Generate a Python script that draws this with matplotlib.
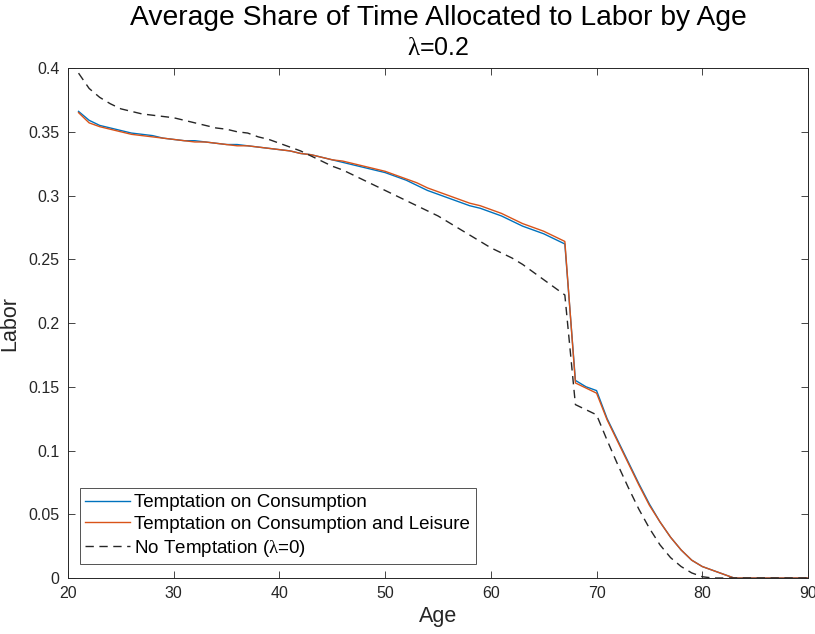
import matplotlib
matplotlib.use('Agg')
import matplotlib.pyplot as plt
import numpy as np

ages = list(range(21, 91))

# Temptation on Consumption
labor_cons = [0.366, 0.359, 0.355, 0.353, 0.351, 0.349, 0.348, 0.347, 0.345, 0.344,
              0.343, 0.343, 0.342, 0.341, 0.340, 0.340, 0.339, 0.338, 0.337, 0.336,
              0.335, 0.333, 0.332, 0.330, 0.328, 0.326, 0.324, 0.322, 0.320, 0.318,
              0.315, 0.312, 0.308, 0.304, 0.301, 0.298, 0.295, 0.292, 0.290, 0.287,
              0.284, 0.280, 0.276, 0.273, 0.270, 0.266, 0.262, 0.155, 0.150, 0.147,
              0.125, 0.108, 0.091, 0.074, 0.058, 0.044, 0.032, 0.022, 0.014, 0.009,
              0.006, 0.003, 0.0, 0.0, 0.0, 0.0, 0.0, 0.0, 0.0, 0.0]

# Temptation on Consumption and Leisure
labor_cons_leis = [0.365, 0.357, 0.354, 0.352, 0.350, 0.348, 0.347, 0.346, 0.345, 0.344,
                   0.343, 0.342, 0.342, 0.341, 0.340, 0.339, 0.339, 0.338, 0.337, 0.336,
                   0.335, 0.333, 0.332, 0.330, 0.328, 0.327, 0.325, 0.323, 0.321, 0.319,
                   0.316, 0.313, 0.310, 0.306, 0.303, 0.300, 0.297, 0.294, 0.292, 0.289,
                   0.286, 0.282, 0.278, 0.275, 0.272, 0.268, 0.264, 0.153, 0.149, 0.145,
                   0.124, 0.107, 0.090, 0.073, 0.057, 0.044, 0.032, 0.022, 0.014, 0.009,
                   0.006, 0.003, 0.0, 0.0, 0.0, 0.0, 0.0, 0.0, 0.0, 0.0]

# No Temptation (lambda = 0)
labor_none = [0.396, 0.384, 0.377, 0.372, 0.368, 0.366, 0.364, 0.363, 0.362, 0.361,
              0.359, 0.357, 0.355, 0.353, 0.352, 0.350, 0.349, 0.346, 0.344, 0.341,
              0.338, 0.335, 0.331, 0.327, 0.323, 0.320, 0.316, 0.312, 0.308, 0.304,
              0.300, 0.296, 0.292, 0.288, 0.284, 0.279, 0.274, 0.269, 0.264, 0.259,
              0.255, 0.251, 0.246, 0.240, 0.234, 0.228, 0.222, 0.136, 0.132, 0.128,
              0.108, 0.089, 0.071, 0.054, 0.039, 0.026, 0.016, 0.009, 0.004, 0.001,
              0.0, 0.0, 0.0, 0.0, 0.0, 0.0, 0.0, 0.0, 0.0, 0.0]

xticks = [20, 30, 40, 50, 60, 70, 80, 90]
yticks = [0, 0.05, 0.1, 0.15, 0.2, 0.25, 0.3, 0.35, 0.4]
ytick_labels = ['0', '0.05', '0.1', '0.15', '0.2', '0.25', '0.3', '0.35', '0.4']

plt.rcParams['font.family'] = ['Liberation Sans', 'DejaVu Sans']
plt.rcParams['mathtext.fontset'] = 'custom'
plt.rcParams['mathtext.rm'] = 'Liberation Serif'
plt.rcParams['mathtext.it'] = 'Liberation Serif'

axcol = '#262626'

fig = plt.figure(figsize=(8.15, 6.34), dpi=100)
ax = fig.add_axes([0.0834, 0.0883, 0.9080, 0.8044])

ax.plot(ages, labor_cons, color='#0072BD', linewidth=1.0, label='Temptation on Consumption')
ax.plot(ages, labor_cons_leis, color='#D95319', linewidth=1.0, label='Temptation on Consumption and Leisure')
ax.plot(ages, labor_none, color=axcol, linewidth=1.0, linestyle=(0, (6, 4)),
        label=r'No Temptation ($\lambda$=0)')

ax.set_xlim(20, 90)
ax.set_ylim(0, 0.4)
ax.set_xticks(xticks)
ax.set_yticks(yticks)
ax.set_yticklabels(ytick_labels)
ax.tick_params(direction='in', top=True, right=True, length=5, width=0.6,
               colors=axcol, labelsize=11.5, pad=6)
for s in ax.spines.values():
    s.set_color(axcol)
    s.set_linewidth(0.7)

ax.set_xlabel('Age', fontsize=15.5, color=axcol, labelpad=3)
ax.set_ylabel('Labor', fontsize=15.5, color=axcol, labelpad=6)

fig.text(0.5375, 0.972, 'Average Share of Time Allocated to Labor by Age',
         ha='center', va='center', fontsize=20.3, color='black')
fig.text(0.5375, 0.925, r'$\lambda$=0.2', ha='center', va='center', fontsize=18, color='black')

leg = ax.legend(loc='lower left', bbox_to_anchor=(0.016, 0.027), fontsize=13.5,
                frameon=True, fancybox=False, handlelength=2.4, handletextpad=0.2,
                borderpad=0.3, labelspacing=0.25, borderaxespad=0)
leg.get_frame().set_edgecolor(axcol)
leg.get_frame().set_linewidth(0.7)

fig.savefig('out.png', dpi=100)
